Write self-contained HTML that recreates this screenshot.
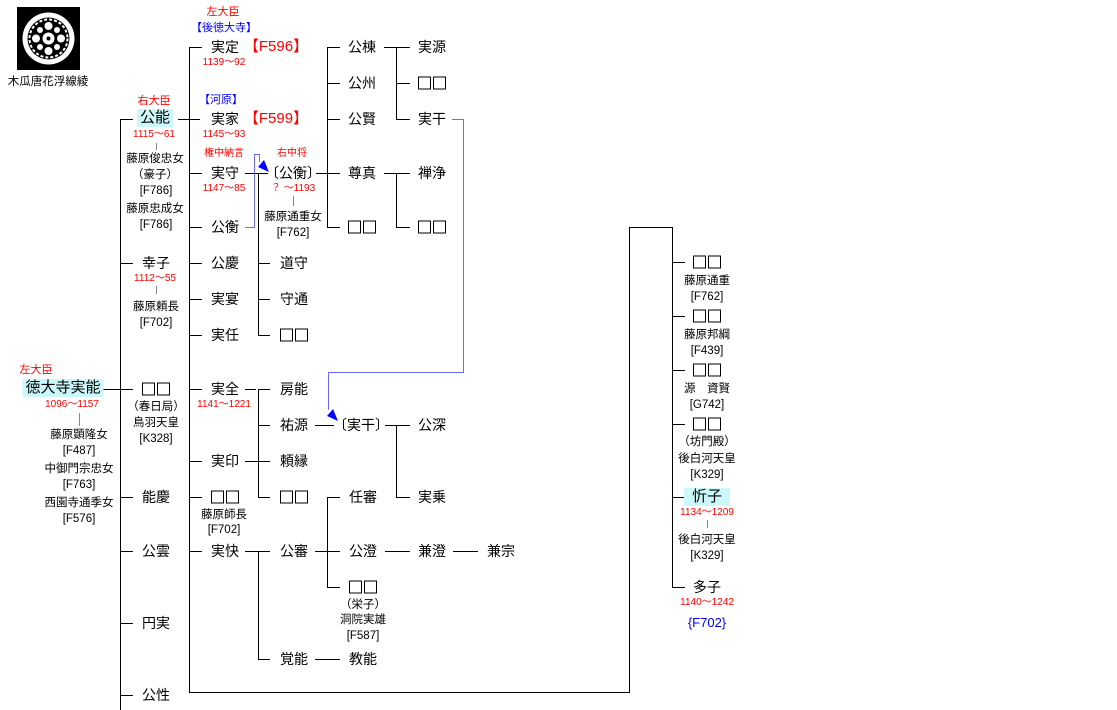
<!DOCTYPE html>
<html><head><meta charset="utf-8"><style>
body{margin:0;background:#fff;width:1117px;height:710px;position:relative;overflow:hidden;font-family:"Liberation Sans","Noto Sans CJK JP",sans-serif;color:#000}
.t{position:absolute;transform:translate(-50%,-50%);white-space:nowrap;font-size:14px;line-height:16px}
.s{font-size:11.5px}
.r{color:#f00;font-size:10px}
.rb{color:#f00;font-size:11px}
.b{color:#00f;font-size:11px}
.h{background:#ccf8fb;padding:1px 3px}
.q{display:flex;gap:2px}
.q i{display:block;width:11px;height:11px;border:1.5px solid #000}
svg{position:absolute;left:0;top:0}
</style></head><body>
<svg width="1117" height="710">
<g stroke="#000" stroke-width="1" fill="none" shape-rendering="crispEdges">
<path d="M120.5 119V710M120 119.5H133M120 263.5H133M120 389.5H133M120 497.5H133M120 551.5H133M120 623.5H133M120 695.5H133M103 389.5H120"/>
<path d="M178 119.5H200M189.5 47V692.5H629.5V227.5H672.5V587M189 47.5H202M189 173.5H202M189 227.5H202M189 263.5H202M189 299.5H202M189 335.5H202M189 389.5H202M189 461.5H202M189 497.5H202M189 551.5H202"/>
<path d="M672 262.5H685M672 316.5H685M672 370.5H685M672 424.5H685M672 497.5H685M672 587.5H685"/>
<path d="M245 173.5H268M258.5 173V335.5M258 263.5H270M258 299.5H270M258 335.5H270"/>
<path d="M316 173.5H340M327.5 47V227.5M327 47.5H340M327 83.5H340M327 119.5H340M327 227.5H340"/>
<path d="M384 47.5H410M396.5 47V119.5M396 83.5H410M396 119.5H410M384 173.5H410M396.5 173V227.5M396 227.5H410"/>
<path d="M245 389.5H256M258.5 389V497.5M258 389.5H270M258 425.5H270M245 461.5H270M258 497.5H270M315 425.5H334"/>
<path d="M385 425.5H410M396.5 425V497.5M396 497.5H410"/>
<path d="M245 551.5H270M258.5 551V659.5M258 659.5H270M315 551.5H340M327.5 497V587.5M327 497.5H340M327 587.5H340M385 551.5H410M453 551.5H478M315 659.5H340"/>
</g>
<g stroke="#888" shape-rendering="crispEdges"><path d="M79.5 413V426M156.5 143V150M156.5 286V294M293.5 196V206M707.5 520V528"/></g>
<g stroke="#6a6aff" fill="none" shape-rendering="crispEdges"><path d="M245 227.5H254.5V154.5H259.5V162M452 119.5H463.5V372.5H328.5V410"/></g>
<path d="M259.5 162L264 170"/>
<path d="M269 172L258 167L264 160Z" fill="#0000ff"/>
<path d="M338 421L327 416L333 409Z" fill="#0000ff"/>
<rect x="17" y="7" width="63" height="63" fill="#000"/>
<circle cx="48.5" cy="38.5" r="26" fill="#fff"/>
<circle cx="48.5" cy="38.5" r="21" fill="#000"/>
<circle cx="48.5" cy="38.5" r="19" fill="none" stroke="#fff" stroke-width="2" stroke-dasharray="3 2"/>
<g fill="#fff"><circle cx="48.5" cy="38.5" r="6"/><circle cx="48.5" cy="26" r="4"/><circle cx="48.5" cy="51" r="4"/><circle cx="36" cy="38.5" r="4"/><circle cx="61" cy="38.5" r="4"/><circle cx="40" cy="30" r="3"/><circle cx="57" cy="30" r="3"/><circle cx="40" cy="47" r="3"/><circle cx="57" cy="47" r="3"/></g>
<circle cx="48.5" cy="38.5" r="2" fill="#000"/>
</svg>
<div class="t s" style="left:48px;top:82px">木瓜唐花浮線綾</div>

<div class="t rb" style="left:36px;top:370px">左大臣</div>
<div class="t h" style="left:63px;top:388px;font-size:15px">徳大寺実能</div>
<div class="t r" style="left:72px;top:405px">1096～1157</div>
<div class="t s" style="left:79px;top:435px">藤原顕隆女</div>
<div class="t s" style="left:79px;top:451px">[F487]</div>
<div class="t s" style="left:79px;top:469px">中御門宗忠女</div>
<div class="t s" style="left:79px;top:485px">[F763]</div>
<div class="t s" style="left:79px;top:503px">西園寺通季女</div>
<div class="t s" style="left:79px;top:519px">[F576]</div>

<div class="t rb" style="left:154px;top:101px">右大臣</div>
<div class="t h" style="left:155px;top:118px;font-size:15px">公能</div>
<div class="t r" style="left:154px;top:135px">1115～61</div>
<div class="t s" style="left:155px;top:159px">藤原俊忠女</div>
<div class="t s" style="left:155px;top:175px">（豪子）</div>
<div class="t s" style="left:156px;top:191px">[F786]</div>
<div class="t s" style="left:155px;top:209px">藤原忠成女</div>
<div class="t s" style="left:156px;top:225px">[F786]</div>
<div class="t" style="left:156px;top:263px">幸子</div>
<div class="t r" style="left:155px;top:279px">1112～55</div>
<div class="t s" style="left:156px;top:307px">藤原頼長</div>
<div class="t s" style="left:156px;top:323px">[F702]</div>
<div class="t q" style="left:156px;top:389px"><i></i><i></i></div>
<div class="t s" style="left:156px;top:407px">（春日局）</div>
<div class="t s" style="left:156px;top:423px">鳥羽天皇</div>
<div class="t s" style="left:156px;top:439px">[K328]</div>
<div class="t" style="left:156px;top:497px">能慶</div>
<div class="t" style="left:156px;top:551px">公雲</div>
<div class="t" style="left:156px;top:623px">円実</div>
<div class="t" style="left:156px;top:695px">公性</div>

<div class="t rb" style="left:223px;top:12px">左大臣</div>
<div class="t b" style="left:224px;top:28px">【後徳大寺】</div>
<div class="t" style="left:225px;top:47px">実定</div>
<div class="t" style="left:276px;top:47px;color:#f00;font-size:15px">【F596】</div>
<div class="t r" style="left:224px;top:63px">1139～92</div>
<div class="t b" style="left:221px;top:100px">【河原】</div>
<div class="t" style="left:225px;top:119px">実家</div>
<div class="t" style="left:276px;top:119px;color:#f00;font-size:15px">【F599】</div>
<div class="t r" style="left:224px;top:135px">1145～93</div>
<div class="t rb" style="left:224px;top:154px;font-size:10px">権中納言</div>
<div class="t" style="left:225px;top:173px">実守</div>
<div class="t r" style="left:224px;top:189px">1147～85</div>
<div class="t" style="left:225px;top:227px">公衡</div>
<div class="t" style="left:225px;top:263px">公慶</div>
<div class="t" style="left:225px;top:299px">実宴</div>
<div class="t" style="left:225px;top:335px">実任</div>
<div class="t" style="left:225px;top:389px">実全</div>
<div class="t r" style="left:224px;top:405px">1141～1221</div>
<div class="t" style="left:225px;top:461px">実印</div>
<div class="t q" style="left:225px;top:497px"><i></i><i></i></div>
<div class="t s" style="left:224px;top:515px">藤原師長</div>
<div class="t s" style="left:224px;top:530px">[F702]</div>
<div class="t" style="left:225px;top:551px">実快</div>

<div class="t rb" style="left:292px;top:154px;font-size:10px">右中将</div>
<div class="t" style="left:293px;top:173px">〔公衡〕</div>
<div class="t r" style="left:293px;top:189px">？ ～1193</div>
<div class="t s" style="left:293px;top:217px">藤原通重女</div>
<div class="t s" style="left:293px;top:233px">[F762]</div>
<div class="t" style="left:294px;top:263px">道守</div>
<div class="t" style="left:294px;top:299px">守通</div>
<div class="t q" style="left:294px;top:335px"><i></i><i></i></div>
<div class="t" style="left:294px;top:389px">房能</div>
<div class="t" style="left:294px;top:425px">祐源</div>
<div class="t" style="left:294px;top:461px">頼縁</div>
<div class="t q" style="left:294px;top:497px"><i></i><i></i></div>
<div class="t" style="left:294px;top:551px">公審</div>
<div class="t" style="left:294px;top:659px">覚能</div>

<div class="t" style="left:362px;top:47px">公棟</div>
<div class="t" style="left:362px;top:83px">公州</div>
<div class="t" style="left:362px;top:119px">公賢</div>
<div class="t" style="left:362px;top:173px">尊真</div>
<div class="t q" style="left:362px;top:227px"><i></i><i></i></div>
<div class="t" style="left:361px;top:425px">〔実干〕</div>
<div class="t" style="left:363px;top:497px">任審</div>
<div class="t" style="left:363px;top:551px">公澄</div>
<div class="t q" style="left:363px;top:587px"><i></i><i></i></div>
<div class="t s" style="left:363px;top:605px">（栄子）</div>
<div class="t s" style="left:363px;top:620px">洞院実雄</div>
<div class="t s" style="left:363px;top:636px">[F587]</div>
<div class="t" style="left:363px;top:659px">教能</div>

<div class="t" style="left:432px;top:47px">実源</div>
<div class="t q" style="left:432px;top:83px"><i></i><i></i></div>
<div class="t" style="left:432px;top:119px">実干</div>
<div class="t" style="left:432px;top:173px">禅浄</div>
<div class="t q" style="left:432px;top:227px"><i></i><i></i></div>
<div class="t" style="left:432px;top:425px">公深</div>
<div class="t" style="left:432px;top:497px">実乗</div>
<div class="t" style="left:432px;top:551px">兼澄</div>
<div class="t" style="left:501px;top:551px">兼宗</div>

<div class="t q" style="left:707px;top:262px"><i></i><i></i></div>
<div class="t s" style="left:707px;top:281px">藤原通重</div>
<div class="t s" style="left:707px;top:297px">[F762]</div>
<div class="t q" style="left:707px;top:316px"><i></i><i></i></div>
<div class="t s" style="left:707px;top:335px">藤原邦綱</div>
<div class="t s" style="left:707px;top:351px">[F439]</div>
<div class="t q" style="left:707px;top:370px"><i></i><i></i></div>
<div class="t s" style="left:707px;top:389px">源　資賢</div>
<div class="t s" style="left:707px;top:405px">[G742]</div>
<div class="t q" style="left:707px;top:424px"><i></i><i></i></div>
<div class="t s" style="left:707px;top:442px">（坊門殿）</div>
<div class="t s" style="left:707px;top:459px">後白河天皇</div>
<div class="t s" style="left:707px;top:475px">[K329]</div>
<div class="t h" style="left:707px;top:497px;font-size:15px;padding:1px 8px">忻子</div>
<div class="t r" style="left:707px;top:513px">1134～1209</div>
<div class="t s" style="left:707px;top:540px">後白河天皇</div>
<div class="t s" style="left:707px;top:556px">[K329]</div>
<div class="t" style="left:707px;top:587px">多子</div>
<div class="t r" style="left:707px;top:603px">1140～1242</div>
<div class="t" style="left:707px;top:623px;color:#00f;font-size:13px">{F702}</div>
</body></html>
